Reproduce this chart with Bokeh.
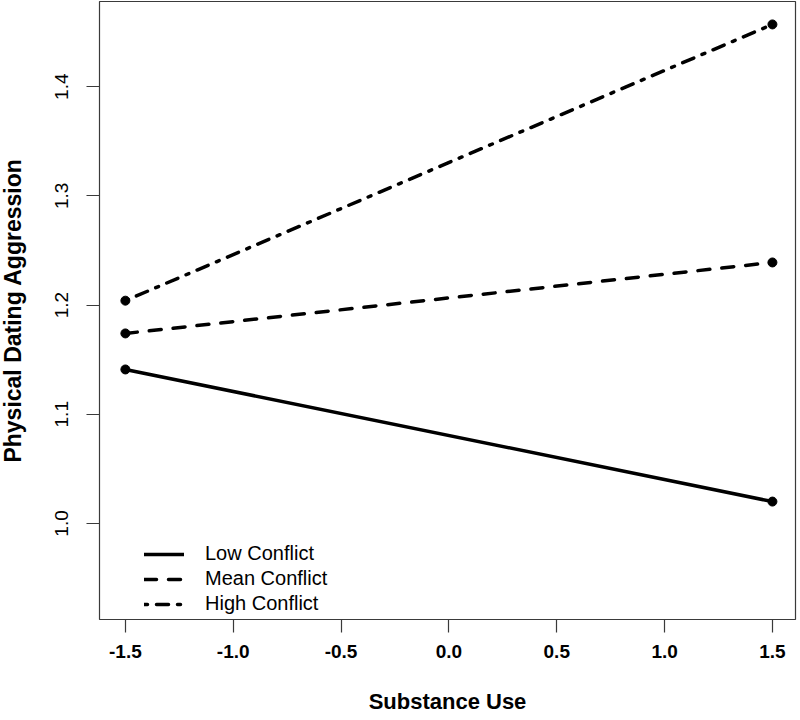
from bokeh.plotting import figure
from bokeh.models import Legend, LegendItem, FixedTicker, PrintfTickFormatter, Range1d
from bokeh.embed import file_html
from bokeh.resources import INLINE

# data
substance_use = [-1.5, 1.5]
low_conflict = [1.141, 1.020]
mean_conflict = [1.174, 1.239]
high_conflict = [1.204, 1.457]
series_names = ["Low Conflict", "Mean Conflict", "High Conflict"]
x_ticks = [-1.5, -1.0, -0.5, 0.0, 0.5, 1.0, 1.5]
y_ticks = [1.0, 1.1, 1.2, 1.3, 1.4]

FONT = "Liberation Sans"

p = figure(width=800, height=720, output_backend="svg", toolbar_location=None,
           x_range=Range1d(-1.62, 1.607), y_range=Range1d(0.912, 1.478),
           min_border_left=100, min_border_right=4, min_border_top=1, min_border_bottom=101,
           frame_width=696, frame_height=618,
           styles={"margin-left": "-4px"})

p.grid.visible = False
p.outline_line_color = "#3a3a3a"
p.outline_line_width = 1.2

# axes
for ax in (p.xaxis[0], p.yaxis[0]):
    ax.axis_line_color = None
    ax.major_tick_line_color = "#3a3a3a"
    ax.major_tick_line_width = 1.2
    ax.major_tick_out = 13
    ax.major_tick_in = 0
    ax.minor_tick_line_color = None
    ax.major_label_text_font = FONT
    ax.axis_label_text_font = FONT
    ax.major_label_text_color = "black"
    ax.axis_label_text_color = "black"
    ax.axis_label_text_font_style = "bold"
    ax.major_label_text_font_size = "19px"

p.xaxis.ticker = FixedTicker(ticks=x_ticks)
p.yaxis.ticker = FixedTicker(ticks=y_ticks)
p.xaxis.formatter = PrintfTickFormatter(format="%.1f")
p.yaxis.formatter = PrintfTickFormatter(format="%.1f")
p.xaxis.major_label_text_font_style = "bold"
p.yaxis.major_label_text_font_style = "normal"
p.yaxis.major_label_orientation = "vertical"
p.xaxis.major_label_standoff = 12
p.yaxis.major_label_standoff = 18
p.xaxis.axis_label = "Substance Use"
p.yaxis.axis_label = "Physical Dating Aggression"
p.xaxis.axis_label_text_font_size = "22px"
p.yaxis.axis_label_text_font_size = "23px"
p.xaxis.axis_label_standoff = 28
p.yaxis.axis_label_standoff = 27

LW = 3.5
r_low = p.line(substance_use, low_conflict, line_color="black", line_width=LW, line_cap="round")
r_mean = p.line(substance_use, mean_conflict, line_color="black", line_width=LW,
                line_dash="12 12", line_cap="round")
r_high = p.line(substance_use, high_conflict, line_color="black", line_width=LW,
                line_dash="3 9 12 9", line_cap="round")
for ys in (low_conflict, mean_conflict, high_conflict):
    p.scatter(substance_use, ys, size=9, fill_color="black", line_color="black")

legend = Legend(items=[LegendItem(label=series_names[0], renderers=[r_low]),
                       LegendItem(label=series_names[1], renderers=[r_mean]),
                       LegendItem(label=series_names[2], renderers=[r_high])],
                location=(45, 4), padding=0, margin=0, spacing=2,
                glyph_width=40, glyph_height=20, label_height=20, label_standoff=21,
                border_line_color=None, background_fill_alpha=0,
                label_text_font=FONT, label_text_font_size="20px", label_text_color="black")
p.add_layout(legend, "center")

open("out.html", "w").write(file_html(p, INLINE))
